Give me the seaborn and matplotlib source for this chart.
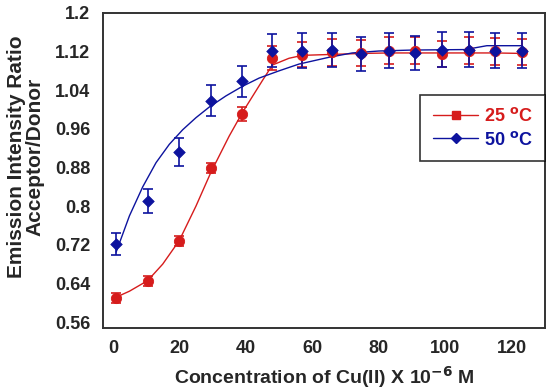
import numpy as np
import pandas as pd
import matplotlib
matplotlib.use("Agg")
import matplotlib.pyplot as plt
import seaborn as sns
from matplotlib.lines import Line2D

# data
conc = [1, 10.5, 20, 29.5, 39, 48, 57, 66, 74.5, 83, 91, 99, 107, 115, 123]
ratio_25 = [0.610, 0.645, 0.728, 0.879, 0.991, 1.106, 1.113, 1.118, 1.117, 1.122,
            1.122, 1.115, 1.122, 1.120, 1.119]
err_25 = [0.010, 0.010, 0.010, 0.011, 0.014, 0.025, 0.026, 0.027, 0.027, 0.027,
          0.027, 0.027, 0.027, 0.027, 0.027]
ratio_50 = [0.722, 0.810, 0.913, 1.018, 1.058, 1.122, 1.122, 1.123, 1.115, 1.122,
            1.117, 1.124, 1.124, 1.122, 1.122]
err_50 = [0.023, 0.025, 0.029, 0.032, 0.033, 0.035, 0.036, 0.036, 0.036, 0.036,
          0.036, 0.036, 0.036, 0.036, 0.036]

# fitted curves as drawn in the reference
fit_x_25 = [0.5, 5, 10.5, 15, 20, 25, 29.5, 35, 39, 45, 48, 53, 57, 66, 75, 83, 91, 99, 107, 115, 123]
fit_y_25 = [0.610, 0.624, 0.646, 0.680, 0.729, 0.800, 0.870, 0.945, 0.994, 1.060, 1.092, 1.106,
            1.112, 1.114, 1.116, 1.117, 1.117, 1.117, 1.117, 1.117, 1.116]
fit_x_50 = [1, 5, 9, 13, 17, 21, 25, 29, 34, 39, 44, 50, 56, 65, 72, 80, 90, 106, 112.5, 123]
fit_y_50 = [0.705, 0.780, 0.840, 0.890, 0.928, 0.958, 0.983, 1.005, 1.028, 1.048, 1.065, 1.080,
            1.094, 1.108, 1.117, 1.121, 1.123, 1.124, 1.132, 1.132]

red = "#d61c1c"
blue = "#0d139e"

sns.set_style("white")
plt.rcParams["font.family"] = ["Liberation Sans", "DejaVu Sans"]
plt.rcParams["font.weight"] = "bold"
plt.rcParams["mathtext.default"] = "bf"

fig = plt.figure(figsize=(5.5, 3.89), dpi=100)
ax = fig.add_axes([0.187, 0.157, 0.804, 0.81])

fit25 = pd.DataFrame({"x": fit_x_25, "y": fit_y_25})
fit50 = pd.DataFrame({"x": fit_x_50, "y": fit_y_50})
sns.lineplot(data=fit25, x="x", y="y", ax=ax, color=red, lw=1.0, sort=False)
sns.lineplot(data=fit50, x="x", y="y", ax=ax, color=blue, lw=1.0, sort=False)

ax.errorbar(conc, ratio_25, yerr=err_25, fmt="none", ecolor=red, elinewidth=1.2, capsize=3.5, capthick=1.2)
sns.scatterplot(x=conc, y=ratio_25, ax=ax, color=red, marker="o", s=55, edgecolor=red, zorder=3)
ax.errorbar(conc, ratio_50, yerr=err_50, fmt="none", ecolor=blue, elinewidth=1.2, capsize=3.5, capthick=1.2)
sns.scatterplot(x=conc, y=ratio_50, ax=ax, color=blue, marker="D", s=35, edgecolor=blue, zorder=4)

ax.set_xlim(-3, 130)
ax.set_ylim(0.548, 1.2)
ax.set_xticks([0, 20, 40, 60, 80, 100, 120])
ax.set_yticks([0.56, 0.64, 0.72, 0.8, 0.88, 0.96, 1.04, 1.12, 1.2])
ax.set_yticklabels(["0.56", "0.64", "0.72", "0.8", "0.88", "0.96", "1.04", "1.12", "1.2"])
ax.tick_params(axis="both", length=0, labelsize=13, pad=9)
for lab in ax.get_xticklabels() + ax.get_yticklabels():
    lab.set_fontweight("bold")

for sp in ax.spines.values():
    sp.set_color("#333333")
    sp.set_linewidth(1.4)

ax.set_xlabel("")
ax.set_ylabel("")
fig.text(0.589, 0.03, r"Concentration of Cu(II) X 10$^{-6}$ M", fontsize=14,
         fontweight="bold", ha="center", va="center")
fig.text(0.047, 0.597, "Emission Intensity Ratio\nAcceptor/Donor", fontsize=15,
         fontweight="bold", rotation=90, ha="center", va="center",
         multialignment="center", linespacing=0.95)

handles = [Line2D([], [], color=red, lw=1.0, marker="s", markersize=6),
           Line2D([], [], color=blue, lw=1.0, marker="D", markersize=5)]
leg = ax.legend(handles, [r"25 $^{o}$C", r"50 $^{o}$C"], loc="upper right",
                bbox_to_anchor=(1.0, 0.74), borderaxespad=0, frameon=True, fancybox=False,
                handlelength=2.5, handletextpad=0.3, fontsize=13, borderpad=0.7,
                labelspacing=0.3)
leg.get_frame().set_edgecolor("black")
leg.get_frame().set_linewidth(1.2)
for txt, c in zip(leg.get_texts(), [red, blue]):
    txt.set_color(c)
    txt.set_fontweight("bold")

fig.savefig("out.png", dpi=100)
